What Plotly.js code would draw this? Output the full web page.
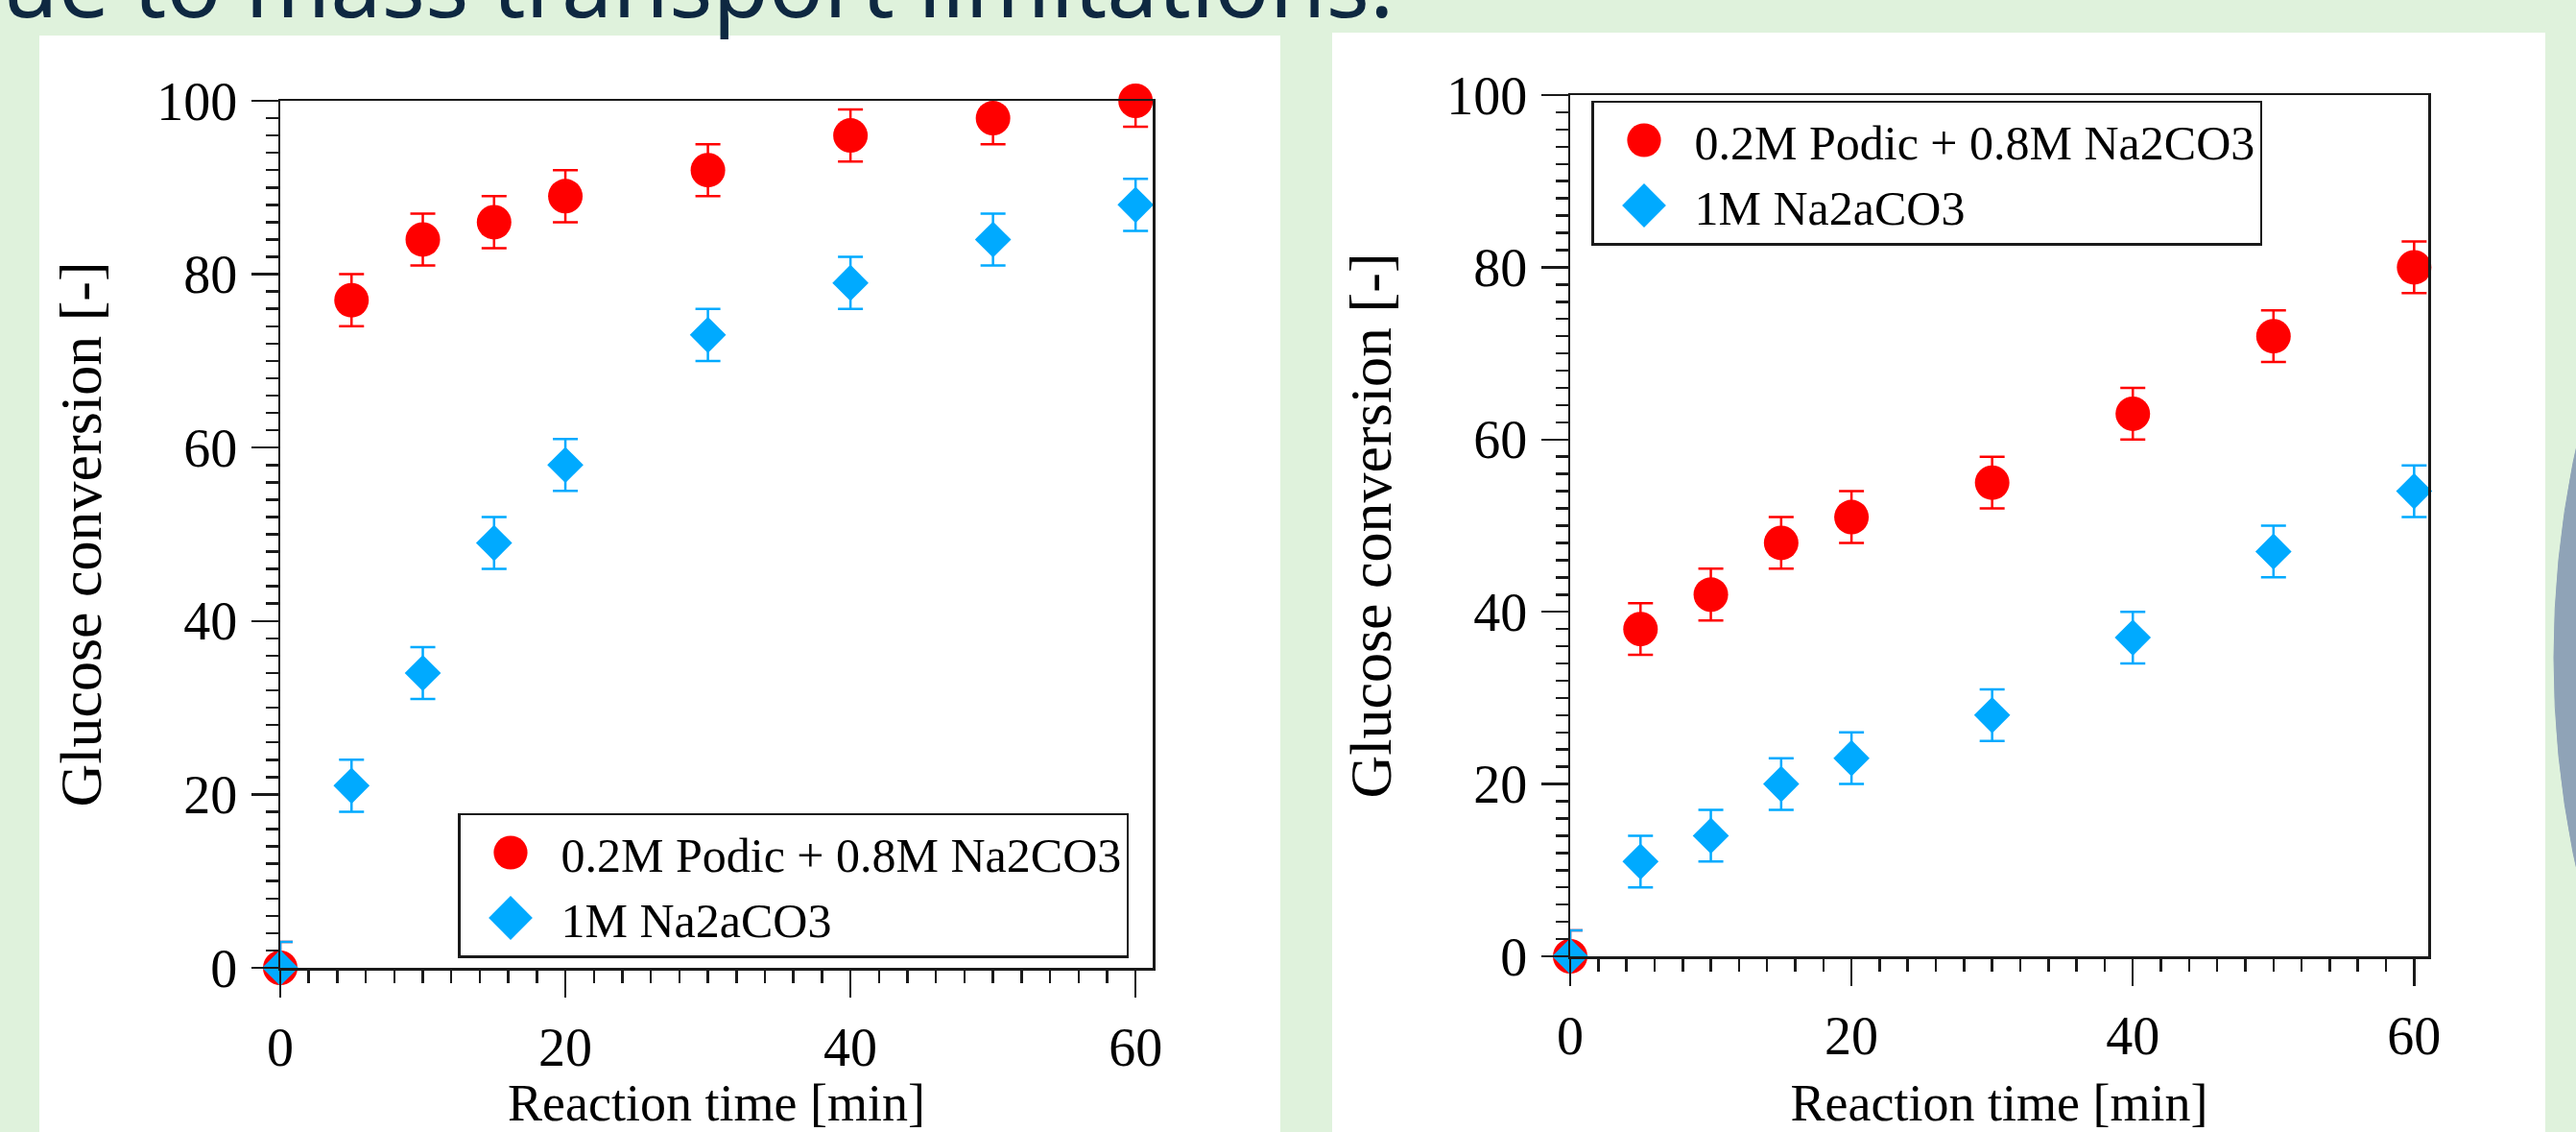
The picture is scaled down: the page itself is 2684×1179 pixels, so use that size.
<!DOCTYPE html>
<html><head><meta charset="utf-8">
<script src="https://cdn.plot.ly/plotly-3.0.1.min.js"></script>
<style>html,body{margin:0;padding:0;background:#dff2dc;} #chart{width:2684px;height:1179px;}</style>
</head><body><div id="chart"></div>
<script>
// ---- data ----
const timeMin = [0, 5, 10, 15, 20, 30, 40, 50, 60];
const podicLeft = [0, 77, 84, 86, 89, 92, 96, 98, 100];
const carbLeft = [0, 21, 34, 49, 58, 73, 79, 84, 88];
const podicRight = [0, 38, 42, 48, 51, 55, 63, 72, 80];
const carbRight = [0, 11, 14, 20, 23, 28, 37, 47, 54];
const errAll = [3, 3, 3, 3, 3, 3, 3, 3, 3];
const seriesNames = ['0.2M Podic + 0.8M Na2CO3', '1M Na2aCO3'];
const xTitle = 'Reaction time [min]';
const yTitle = 'Glucose conversion [-]';
const headline = 'ue to mass transport limitations.';

// ---- style ----
const W = 2684, H = 1179;
const FONT = '"Liberation Serif", "Times New Roman", serif';
const RED = '#ff0000', BLUE = '#00aaff', INK = '#1a1a1a';
const px = v => v / W, py = v => 1 - v / H;

function mk(x, y, err, name, color, symbol, size, xa, ya, leg) {
  return {
    type: 'scatter', mode: 'markers', x: x, y: y, name: name,
    xaxis: xa, yaxis: ya, legend: leg, showlegend: true, cliponaxis: false,
    marker: {color: color, symbol: symbol, size: size, line: {width: 0}},
    error_y: {type: 'data', array: err, visible: true, color: color, thickness: 2.5, width: 13}
  };
}
const data = [
  mk(timeMin, podicLeft, errAll, seriesNames[0], RED, 'circle', 36, 'x', 'y', 'legend'),
  mk(timeMin, carbLeft, errAll, seriesNames[1], BLUE, 'diamond', 29, 'x', 'y', 'legend'),
  mk(timeMin, podicRight, errAll, seriesNames[0], RED, 'circle', 36, 'x2', 'y2', 'legend2'),
  mk(timeMin, carbRight, errAll, seriesNames[1], BLUE, 'diamond', 29, 'x2', 'y2', 'legend2')
];

function mainAxis(range, domain, anchor, title, isX) {
  return {
    range: range, domain: domain, anchor: anchor, autorange: false,
    showline: true, linecolor: INK, linewidth: 2.5, mirror: true,
    ticks: 'outside', tickcolor: INK, tickwidth: 2.5, ticklen: 28,
    tick0: 0, dtick: 20, ticklabelstandoff: isX ? 4 : 3,
    showgrid: false, zeroline: false,
    tickfont: {family: FONT, size: 56, color: '#000'},
    minor: {ticks: 'outside', dtick: 2, tick0: 0, ticklen: 13, tickwidth: 2.5, tickcolor: INK, showgrid: false},
    title: {text: title, font: {family: FONT, size: isX ? 54 : 62, color: '#000'}, standoff: isX ? 22 : 38}
  };
}
function midAxis(range, domain, anchor, overlay) {
  return {
    range: range, domain: domain, anchor: anchor, overlaying: overlay, autorange: false,
    showline: false, showticklabels: false, showgrid: false, zeroline: false,
    ticks: 'outside', tickcolor: INK, tickwidth: 2.5, ticklen: 20, tick0: 0, dtick: 10
  };
}
const xdom1 = [px(292), px(1201)], ydom1 = [py(1008), py(105)];
const xdom2 = [px(1636), px(2530)], ydom2 = [py(996), py(99)];
const xr = [0, 61.2], xr2 = [0, 61.0], yr = [0, 100];

const legendStyle = {bgcolor: 'white', bordercolor: INK, borderwidth: 2.5, itemwidth: 95,
  font: {family: FONT, size: 50, color: '#000'}, tracegroupgap: 0};

const layout = {
  width: W, height: H, autosize: false,
  margin: {l: 0, r: 0, t: 0, b: 0, pad: 0},
  paper_bgcolor: '#dff2dc', plot_bgcolor: 'white',
  font: {family: FONT, color: '#000'},
  xaxis: mainAxis(xr, xdom1, 'y', xTitle, true),
  yaxis: mainAxis(yr, ydom1, 'x', yTitle, false),
  xaxis2: mainAxis(xr2, xdom2, 'y2', xTitle, true),
  yaxis2: mainAxis(yr, ydom2, 'x2', yTitle, false),
  xaxis3: midAxis(xr, xdom1, 'y', 'x'),
  yaxis3: midAxis(yr, ydom1, 'x', 'y'),
  xaxis4: midAxis(xr2, xdom2, 'y2', 'x2'),
  yaxis4: midAxis(yr, ydom2, 'x2', 'y2'),
  legend: Object.assign({x: px(1176), xanchor: 'right', y: py(922), yanchor: 'middle'}, legendStyle),
  legend2: Object.assign({x: px(1658), xanchor: 'left', y: py(180), yanchor: 'middle'}, legendStyle),
  shapes: [
    {type: 'rect', xref: 'paper', yref: 'paper', layer: 'below', x0: px(41), x1: px(1334), y0: py(1200), y1: py(37),
      fillcolor: 'white', line: {width: 0}},
    {type: 'rect', xref: 'paper', yref: 'paper', layer: 'below', x0: px(1388), x1: px(2652), y0: py(1200), y1: py(34),
      fillcolor: 'white', line: {width: 0}},
    {type: 'circle', xref: 'paper', yref: 'paper', layer: 'below', x0: px(2661), x1: px(2661 + 2080), y0: py(685 + 1040), y1: py(685 - 1040),
      fillcolor: '#8fa3b7', line: {width: 1, color: '#8fa3b7'}}
  ],
  annotations: [
    {text: headline, xref: 'paper', yref: 'paper', x: px(0), xanchor: 'left', y: py(48), yanchor: 'bottom',
      showarrow: false, font: {family: '"Noto Sans", sans-serif', size: 95, color: '#0e2841'}}
  ]
};

Plotly.newPlot('chart', data, layout, {staticPlot: true, displayModeBar: false}).then(function (gd) {
  // enlarge legend symbols to match the marker size drawn in the plots
  gd.querySelectorAll('.legendpoints path.scatterpts').forEach(function (p) {
    const t = p.getAttribute('transform') || '';
    p.setAttribute('transform', t + ' scale(2.2)');
  });
});
</script>
</body></html>
